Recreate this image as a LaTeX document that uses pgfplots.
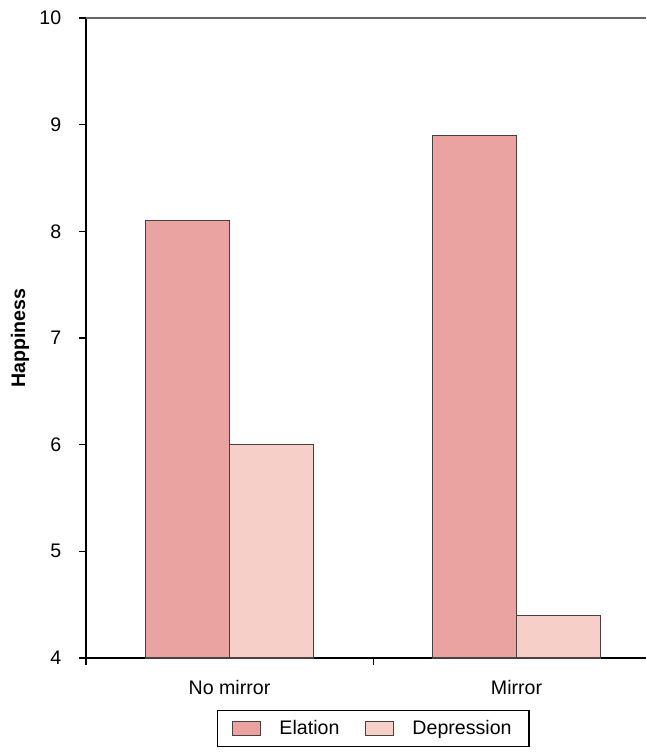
\documentclass[border=0pt]{standalone}
\usepackage{fontspec}
\setmainfont{Liberation Sans}
\usepackage{pgfplots}
\pgfplotsset{compat=1.18}
\definecolor{elation}{HTML}{EBA3A1}
\definecolor{depress}{HTML}{F5CFC8}
\definecolor{edge}{HTML}{4A4040}
\newcommand{\fs}{\fontsize{14.7pt}{17pt}\selectfont}
\begin{document}
\begin{tikzpicture}
\useasboundingbox (-64.5pt,-70.5pt) rectangle (420pt,493.5pt);
\begin{axis}[
  scale only axis,
  width=420pt, height=480pt,
  xmin=0, xmax=1.951,
  ymin=4, ymax=10,
  ytick={4,5,6,7,8,9,10},
  xtick={0,1},
  xticklabels={},
  extra x ticks={0.5,1.5},
  extra x tick labels={No mirror,Mirror},
  extra x tick style={major tick length=0pt, xticklabel style={yshift=-13pt}},
  axis x line*=bottom,
  axis y line*=left,
  axis line style={black, line width=0.8pt},
  tick style={black, line width=0.8pt},
  tick align=outside,
  major tick length=5pt,
  /pgf/number format/assume math mode=true,
  tick label style={font=\fs},
  yticklabel style={xshift=-10pt},
  ylabel={\textbf{Happiness}},
  ylabel style={font=\fs, at={(rel axis cs:0,0.5)}, anchor=center, rotate=0, yshift=49.5pt},
  ybar=0pt,
  bar width=63pt,
  legend columns=2,
  legend style={at={(axis cs:1,4)}, anchor=north, yshift=-39pt,
    draw=black, line width=0.8pt, font=\fs, inner xsep=11pt, inner ysep=5.5pt,
    /tikz/every even column/.append style={column sep=17pt},
    /tikz/every odd column/.append style={column sep=12pt}},
  legend image code/.code={\draw[#1, line width=0.8pt] (0pt,-5.25pt) rectangle (21pt,5.25pt);},
]
\addplot[fill=elation, draw=edge, line width=0.8pt] coordinates {(0.5,8.1) (1.5,8.9)};
\addplot[fill=depress, draw=edge, line width=0.8pt] coordinates {(0.5,6.0) (1.5,4.4)};
\legend{Elation,Depression}
\draw[black!60, line width=1pt] (rel axis cs:0,1) -- (rel axis cs:1,1);
\end{axis}
\end{tikzpicture}
\end{document}
